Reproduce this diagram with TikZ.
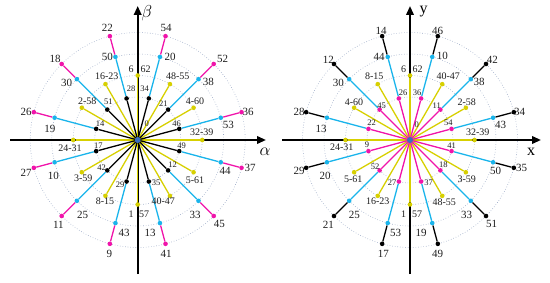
\documentclass[tikz,border=0pt]{standalone}
\usepackage{fontspec}
\setmainfont{Liberation Serif}
\usetikzlibrary{arrows.meta}
\definecolor{mg}{RGB}{240,20,170}
\definecolor{bl}{RGB}{25,180,235}
\definecolor{yl}{RGB}{215,208,0}
\definecolor{gc}{RGB}{150,165,195}
\definecolor{cd}{RGB}{60,110,190}
\definecolor{tx}{RGB}{30,30,30}
\tikzset{
 ring/.style={gc, dotted, line width=0.6pt},
 axisline/.style={black, line width=2pt, -{Triangle[length=9pt,width=7.5pt]}},
 vec/.style={line width=1.3pt},
 dot/.style={circle, fill=#1, inner sep=0pt, minimum size=4.6pt},
 cdot/.style={circle, fill=cd, inner sep=0pt, minimum size=6pt},
 big/.style={font=\fontsize{11}{11}\selectfont, text=tx, inner sep=0pt},
 mid/.style={font=\fontsize{10}{10}\selectfont, text=tx, inner sep=0pt},
 sml/.style={font=\fontsize{8.5}{8.5}\selectfont, text=tx, inner sep=0pt},
 axlab/.style={font=\fontsize{16}{16}\selectfont, inner sep=0pt},
}
\newcommand{\lab}[5]{\node[#1] (#2) at (#3,{282-#4}) {#5};}
\begin{document}
\begin{tikzpicture}[x=1pt,y=1pt]
\useasboundingbox (0,0) rectangle (550,282);
\coordinate (Lc) at (137.7,142);
\coordinate (Rc) at (410,142);
% rings
\foreach \c in {Lc,Rc}
  \foreach \r in {43,64.5,86,107.5}
    \draw[ring] (\c) circle[radius=\r];
% axes
\coordinate (Lw) at (10,142);  \coordinate (Le) at (266,142);
\coordinate (Ls) at (137.7,8); \coordinate (Ln) at (137.7,276);
\coordinate (Rw) at (282,142); \coordinate (Re) at (541,142);
\coordinate (Rs) at (410,8);   \coordinate (Rn) at (410,276);
\draw[axisline] (Lw) -- (Le);
\draw[axisline] (Ls) -- (Ln);
\draw[axisline] (Rw) -- (Re);
\draw[axisline] (Rs) -- (Rn);
% dots
\foreach \k in {0,...,11}{
  \pgfmathsetmacro\a{15+30*\k}
  \pgfmathsetmacro\b{30*\k}
  \node[dot=black] (Lk\k) at ([shift={(Lc)}]\a:43) {};
  \node[dot=bl]    (Lb\k) at ([shift={(Lc)}]\a:86) {};
  \node[dot=mg]    (Lm\k) at ([shift={(Lc)}]\a:107.5) {};
  \node[dot=yl]    (Ly\k) at ([shift={(Lc)}]\b:64.5) {};
  \node[dot=mg]    (Rm\k) at ([shift={(Rc)}]\a:43) {};
  \node[dot=bl]    (Rb\k) at ([shift={(Rc)}]\a:86) {};
  \node[dot=black] (Rk\k) at ([shift={(Rc)}]\a:107.5) {};
  \node[dot=yl]    (Ry\k) at ([shift={(Rc)}]\b:64.5) {};
}
% vectors
\foreach \k in {0,...,11}{
  \draw[vec,yl] (Lc) -- (Ly\k);
  \draw[vec,yl] (Rc) -- (Ry\k);
}
\foreach \k in {0,...,11}{
  \draw[vec,black] (Lc) -- (Lk\k);
  \draw[vec,bl] (Lk\k) -- (Lb\k);
  \draw[vec,mg] (Lb\k) -- (Lm\k);
  \draw[vec,mg] (Rc) -- (Rm\k);
  \draw[vec,bl] (Rm\k) -- (Rb\k);
  \draw[vec,black] (Rb\k) -- (Rk\k);
}
\node[cdot] (Lo) at (Lc) {};
\node[cdot] (Ro) at (Rc) {};
% axis labels
\lab{axlab}{lalpha}{265}{152}{$\alpha$}
\lab{axlab}{lbeta}{147}{13}{$\beta$}
\lab{axlab}{rx}{531}{152}{x}
\lab{axlab}{ry}{423.5}{12}{y}
% ---- left labels
% yellow
\lab{mid}{ly6}{131}{69}{6}
\lab{mid}{ly62}{145.5}{69}{62}
\lab{mid}{ly1}{131}{214}{1}
\lab{mid}{ly57}{144}{214}{57}
\lab{mid}{ly3239}{201.7}{132.7}{32-39}
\lab{mid}{ly460}{195}{101.7}{4-60}
\lab{mid}{ly4855}{177.7}{76.7}{48-55}
\lab{mid}{ly1623}{106.7}{76.7}{16-23}
\lab{mid}{ly258}{87.3}{101}{2-58}
\lab{mid}{ly2431}{70}{148}{24-31}
\lab{mid}{ly359}{83.3}{178.7}{3-59}
\lab{mid}{ly815}{105}{201.3}{8-15}
\lab{mid}{ly4047}{163.3}{201.3}{40-47}
\lab{mid}{ly561}{195}{180.7}{5-61}
% black small
\lab{sml}{lk0}{146.7}{124}{0}
\lab{sml}{lk46}{176.7}{123.3}{46}
\lab{sml}{lk21}{163.3}{103.3}{21}
\lab{sml}{lk34}{144.5}{89}{34}
\lab{sml}{lk28}{131}{89}{28}
\lab{sml}{lk51}{108.3}{101.7}{51}
\lab{sml}{lk14}{100}{123.3}{14}
\lab{sml}{lk17}{98.3}{145.3}{17}
\lab{sml}{lk42}{101.7}{167.3}{42}
\lab{sml}{lk29}{120}{184.7}{29}
\lab{sml}{lk35}{156}{182.3}{35}
\lab{sml}{lk12}{172.7}{164.7}{12}
\lab{sml}{lk49}{181.7}{145.3}{49}
% blue
\lab{big}{lb53}{228.3}{125}{53}
\lab{big}{lb38}{208.3}{81.7}{38}
\lab{big}{lb20}{170}{56.7}{20}
\lab{big}{lb50}{107.3}{56.7}{50}
\lab{big}{lb30}{66.7}{83.3}{30}
\lab{big}{lb19}{50}{129}{19}
\lab{big}{lb10}{53.3}{176.3}{10}
\lab{big}{lb25}{82.7}{215.3}{25}
\lab{big}{lb43}{124}{233}{43}
\lab{big}{lb13}{150}{233}{13}
\lab{big}{lb33}{195}{215.3}{33}
\lab{big}{lb44}{225}{171.3}{44}
% magenta
\lab{big}{lm36}{248}{112.3}{36}
\lab{big}{lm52}{222.7}{59}{52}
\lab{big}{lm54}{166}{27.7}{54}
\lab{big}{lm22}{107.3}{27.7}{22}
\lab{big}{lm18}{55}{59}{18}
\lab{big}{lm26}{26}{111.7}{26}
\lab{big}{lm27}{26}{173}{27}
\lab{big}{lm11}{58.3}{225.3}{11}
\lab{big}{lm9}{109.3}{254}{9}
\lab{big}{lm41}{166}{254}{41}
\lab{big}{lm45}{219.3}{224}{45}
\lab{big}{lm37}{250}{168}{37}
% ---- right labels
% yellow
\lab{mid}{ry6}{403.5}{69}{6}
\lab{mid}{ry62}{417.5}{69}{62}
\lab{mid}{ry1}{403.5}{214}{1}
\lab{mid}{ry57}{417}{214}{57}
\lab{mid}{ry3239}{477.7}{132.7}{32-39}
\lab{mid}{ry258}{466.7}{102.7}{2-58}
\lab{mid}{ry4047}{448.3}{76.7}{40-47}
\lab{mid}{ry815}{374.3}{76.7}{8-15}
\lab{mid}{ry460}{354}{102.3}{4-60}
\lab{mid}{ry2431}{341.7}{147.3}{24-31}
\lab{mid}{ry561}{353.3}{179.7}{5-61}
\lab{mid}{ry1623}{377.7}{201.3}{16-23}
\lab{mid}{ry4855}{444.3}{202.3}{48-55}
\lab{mid}{ry359}{466.7}{179.7}{3-59}
% magenta small
\lab{sml}{rm0}{416.7}{125}{0}
\lab{sml}{rm54}{448.3}{122.7}{54}
\lab{sml}{rm11}{436.7}{106}{11}
\lab{sml}{rm36}{417}{92.7}{36}
\lab{sml}{rm26}{403}{92.7}{26}
\lab{sml}{rm45}{381.7}{106}{45}
\lab{sml}{rm22}{371.7}{122.7}{22}
\lab{sml}{rm9}{367}{144.7}{9}
\lab{sml}{rm52}{375}{166.3}{52}
\lab{sml}{rm27}{392}{183}{27}
\lab{sml}{rm37}{428.5}{183}{37}
\lab{sml}{rm18}{443.3}{164.7}{18}
\lab{sml}{rm41}{451.7}{145.3}{41}
% blue
\lab{big}{rb43}{500.7}{125}{43}
\lab{big}{rb38}{479}{81.7}{38}
\lab{big}{rb10}{442.3}{56}{10}
\lab{big}{rb44}{379}{56.7}{44}
\lab{big}{rb30}{338.3}{83.3}{30}
\lab{big}{rb13}{321}{129}{13}
\lab{big}{rb20}{325}{176.3}{20}
\lab{big}{rb25}{354.3}{215.3}{25}
\lab{big}{rb53}{395.7}{233}{53}
\lab{big}{rb19}{421}{233}{19}
\lab{big}{rb33}{466.7}{215.3}{33}
\lab{big}{rb50}{495.7}{171.3}{50}
% black
\lab{big}{rk34}{519.5}{112.3}{34}
\lab{big}{rk42}{492.3}{60}{42}
\lab{big}{rk46}{437.7}{30.7}{46}
\lab{big}{rk14}{381}{31}{14}
\lab{big}{rk12}{328.3}{60}{12}
\lab{big}{rk28}{299}{112.3}{28}
\lab{big}{rk29}{299}{171.3}{29}
\lab{big}{rk21}{328.3}{225.3}{21}
\lab{big}{rk17}{383.3}{254}{17}
\lab{big}{rk49}{437.7}{254}{49}
\lab{big}{rk51}{491.7}{224}{51}
\lab{big}{rk35}{521.5}{168}{35}
\end{tikzpicture}
\end{document}
